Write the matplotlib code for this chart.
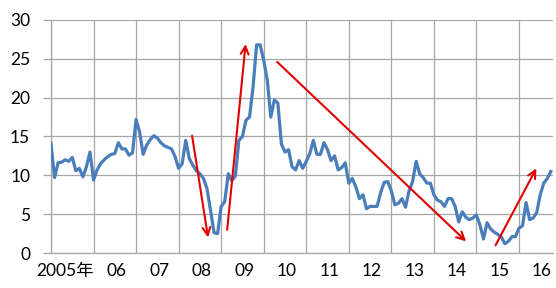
import numpy as np
import matplotlib
matplotlib.use("Agg")
import matplotlib.pyplot as plt

plt.rcParams['font.family'] = ['Lato', 'Noto Sans CJK JP', 'DejaVu Sans']

# monthly values, Jan 2005 .. Oct 2016
values = [
    14.1, 9.7, 11.6, 11.7, 12.0, 11.8, 12.3, 10.6, 10.9, 9.8, 11.1, 13.0,   # 2005
    9.4, 10.7, 11.5, 12.0, 12.4, 12.7, 12.8, 14.2, 13.4, 13.4, 12.6, 12.9,  # 2006
    17.2, 15.6, 12.7, 13.9, 14.6, 15.1, 14.8, 14.2, 13.8, 13.6, 13.4, 12.4, # 2007
    10.9, 11.5, 14.5, 12.2, 11.3, 10.6, 10.2, 9.6, 8.3, 5.5, 2.6, 2.5,      # 2008
    6.0, 6.6, 10.2, 9.3, 9.9, 14.5, 15.0, 17.1, 17.5, 21.4, 26.8, 26.8,     # 2009
    24.8, 22.3, 17.5, 19.7, 19.3, 14.0, 13.0, 13.3, 11.1, 10.7, 11.9, 10.9, # 2010
    11.8, 12.8, 14.5, 12.7, 12.7, 14.2, 13.3, 11.9, 12.5, 10.7, 11.0, 11.6, # 2011
    9.0, 9.6, 8.5, 7.0, 7.5, 5.7, 6.0, 6.0, 6.0, 7.8, 9.1, 9.2,             # 2012
    8.0, 6.2, 6.4, 7.0, 5.9, 8.0, 9.2, 11.8, 10.2, 9.7, 9.0, 9.0,           # 2013
    7.5, 6.8, 6.6, 6.0, 7.0, 7.0, 6.0, 4.0, 5.3, 4.6, 4.3, 4.5,             # 2014
    4.9, 3.6, 1.8, 3.9, 3.1, 2.7, 2.4, 2.1, 1.2, 1.5, 2.1, 2.1,             # 2015
    3.2, 3.5, 6.5, 4.3, 4.5, 5.2, 7.5, 9.0, 9.6, 10.5,                      # 2016
]
year_labels = ['2005年', '06', '07', '08', '09', '10', '11', '12', '13', '14', '15', '16']

# trend arrows (start month, start value, end month, end value)
arrow_start_x = [39.8, 49.7, 63.8, 125.4]
arrow_start_y = [15.1, 3.0, 24.6, 1.0]
arrow_end_x = [44.3, 54.9, 117.1, 136.9]
arrow_end_y = [2.0, 26.9, 1.5, 10.9]

grid_c = '#a6a6a6'

fig = plt.figure(figsize=(5.56, 2.88), dpi=100)
ax = fig.add_axes([0.0917, 0.1215, 0.9029, 0.8091])

x = np.arange(len(values))
ax.plot(x, values, color='#4a7ebb', lw=2.3, solid_joinstyle='round', zorder=3)

for sx, sy, ex, ey in zip(arrow_start_x, arrow_start_y, arrow_end_x, arrow_end_y):
    ax.annotate('', xy=(ex, ey), xytext=(sx, sy),
                arrowprops=dict(arrowstyle='->', color='#e00000', lw=1.5,
                                mutation_scale=14, shrinkA=0, shrinkB=0),
                zorder=4)

ax.set_xlim(0, 141.6)
ax.set_ylim(0, 30)
ax.set_yticks(np.arange(0, 31, 5))
ax.set_xticks(np.arange(0, 142, 12))
ax.set_xticklabels([])
label_pos = [4] + [12 * i + 6.5 for i in range(1, len(year_labels))]
ax.set_xticks(label_pos, minor=True)
ax.set_xticklabels(year_labels, minor=True)

ax.grid(True, color=grid_c, lw=0.9)
ax.tick_params(axis='x', which='both', length=0, labelsize=12.5, pad=7)
ax.tick_params(axis='y', length=6, color=grid_c, width=0.9, labelsize=12.5, pad=9)

for s in ['top', 'right']:
    ax.spines[s].set_visible(False)
for s in ['left', 'bottom']:
    ax.spines[s].set_color(grid_c)
    ax.spines[s].set_linewidth(0.9)

fig.savefig('out.png', dpi=100)
